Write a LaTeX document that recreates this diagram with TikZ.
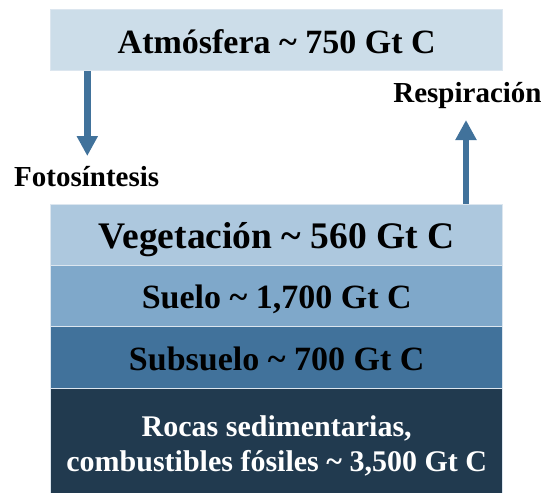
\documentclass[tikz,border=0pt]{standalone}
\usepackage{fontspec}
\setmainfont{Liberation Serif}
\usetikzlibrary{arrows.meta}
\definecolor{cAtm}{HTML}{CCDDE9}
\definecolor{cVeg}{HTML}{ADC8DE}
\definecolor{cSue}{HTML}{7FA8CA}
\definecolor{cSub}{HTML}{41729B}
\definecolor{cRoc}{HTML}{213A4F}
\definecolor{cArr}{HTML}{41729B}
\definecolor{cEdge}{HTML}{DCE6EF}
\tikzset{
  layerbox/.style={draw=cEdge, line width=0.8pt, rectangle, inner sep=0pt, minimum width=452pt},
  lbl/.style={anchor=base, inner sep=0pt, font=\bfseries},
  flowarrow/.style={draw=cArr, line width=6.7pt, -{Triangle[length=20pt,width=20pt]}},
}
\begin{document}
\begin{tikzpicture}
\useasboundingbox (0,0) rectangle (542pt,-493pt);
% boxes
\node[layerbox, fill=cAtm, minimum height=61.4pt] (atm) at (276.7pt,-40pt) {};
\node[layerbox, fill=cVeg, minimum height=61.4pt] (veg) at (276.7pt,-235pt) {};
\node[layerbox, fill=cSue, minimum height=61pt] (sue) at (276.7pt,-296.2pt) {};
\node[layerbox, fill=cSub, minimum height=61.3pt] (sub) at (276.7pt,-357.35pt) {};
\node[layerbox, fill=cRoc, minimum height=108pt] (roc) at (276.7pt,-442pt) {};
% texts
\node[lbl, font=\bfseries\fontsize{34}{40}\selectfont] (atmT) at (276.7pt,-53.5pt) {Atmósfera \textasciitilde{} 750 Gt C};
\node[lbl, font=\bfseries\fontsize{37.5}{44}\selectfont] (vegT) at (276.7pt,-248.5pt) {Vegetación \textasciitilde{} 560 Gt C};
\node[lbl, font=\bfseries\fontsize{34}{40}\selectfont] (sueT) at (276.7pt,-308.5pt) {Suelo \textasciitilde{} 1,700 Gt C};
\node[lbl, font=\bfseries\fontsize{34}{40}\selectfont] (subT) at (276.7pt,-370pt) {Subsuelo \textasciitilde{} 700 Gt C};
\node[lbl, font=\bfseries\fontsize{30}{36}\selectfont, text=white] (rocT1) at (276.7pt,-436pt) {Rocas sedimentarias,};
\node[lbl, font=\bfseries\fontsize{30}{36}\selectfont, text=white] (rocT2) at (276.7pt,-471.7pt) {combustibles fósiles \textasciitilde{} 3,500 Gt C};
\node[lbl, font=\bfseries\fontsize{29}{34}\selectfont] (foto) at (86.7pt,-186.7pt) {Fotosíntesis};
\node[lbl, font=\bfseries\fontsize{29}{34}\selectfont] (resp) at (467.5pt,-102pt) {Respiración};
% arrows
\coordinate (dtip) at (87.3pt,-156pt);
\coordinate (utip) at (466pt,-120pt);
\draw[flowarrow] (atm.south -| dtip) -- (dtip);
\draw[flowarrow] (veg.north -| utip) -- (utip);
\end{tikzpicture}
\end{document}
